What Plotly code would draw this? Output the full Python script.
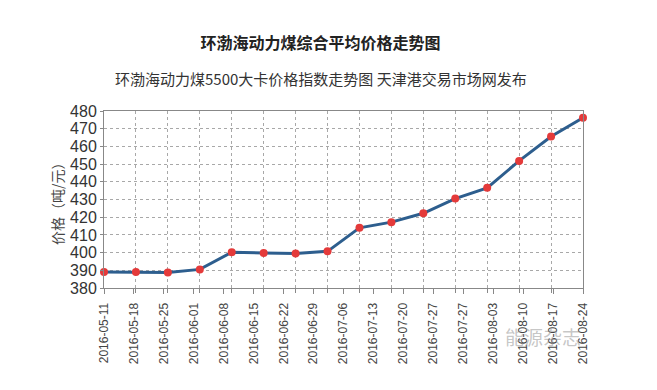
import numpy as np
import plotly.graph_objects as go

# ---- data ----
tick_labels = ["2016-05-11", "2016-05-18", "2016-05-25", "2016-06-01", "2016-06-08",
               "2016-06-15", "2016-06-22", "2016-06-29", "2016-07-06", "2016-07-13",
               "2016-07-20", "2016-07-27", "2016-07-27", "2016-08-03", "2016-08-10",
               "2016-08-17", "2016-08-24"]
prices = [389.0, 389.0, 388.8, 390.5, 400.2, 399.8, 399.5, 400.7, 414.0, 417.2,
          422.2, 430.5, 436.6, 451.8, 465.6, 476.2]
y_ticks = [380, 390, 400, 410, 420, 430, 440, 450, 460, 470, 480]

title_text = "<b>环渤海动力煤综合平均价格走势图</b>"
subtitle_text = "环渤海动力煤5500大卡价格指数走势图 天津港交易市场网发布"
ytitle_text = "价格（吨/元）"
watermark_text = "能源杂志"

FONT = "Liberation Sans, Arial, Noto Sans CJK SC, sans-serif"
CJK = "Noto Sans CJK SC, sans-serif"

n = len(prices)
x_data = list(range(n))
x_label_pos = list(np.linspace(0, n - 1, len(tick_labels)))

fig = go.Figure()
fig.add_trace(go.Scatter(
    x=x_data, y=prices, mode="lines+markers",
    line=dict(color="#2d5e8e", width=3),
    marker=dict(color="#e43a3a", size=8),
    cliponaxis=False, showlegend=False,
))

fig.update_layout(
    width=657, height=390,
    margin=dict(l=96, r=82, t=103, b=110),
    paper_bgcolor="white", plot_bgcolor="white",
    font=dict(family=FONT, color="#333"),
    title=dict(text=title_text, x=312.5 / 657, xref="container", xanchor="center",
               y=1 - 35 / 390, yref="container", yanchor="middle",
               font=dict(family=CJK, size=16, color="#222")),
    xaxis=dict(
        range=[0, n - 1],
        tickmode="array", tickvals=x_label_pos, ticktext=tick_labels,
        tickangle=-90, tickfont=dict(size=12, color="#444"),
        ticks="outside", ticklen=5, tickcolor="#888",
        ticklabelstandoff=4,
        showgrid=False, zeroline=False,
        showline=True, linecolor="#888", linewidth=1, mirror=True,
        minor=dict(tickmode="array", tickvals=x_data, showgrid=True,
                   gridcolor="#a8a8a8", griddash="dot", gridwidth=1,
                   ticks="outside", ticklen=4, tickcolor="#888"),
    ),
    yaxis=dict(
        range=[380, 480],
        tickmode="array", tickvals=y_ticks,
        tickfont=dict(size=16, color="#333"),
        ticks="outside", ticklen=3, tickcolor="#888",
        showgrid=True, gridcolor="#a8a8a8", griddash="dot", gridwidth=1,
        zeroline=False,
        showline=True, linecolor="#888", linewidth=1, mirror=True,
    ),
    annotations=[
        dict(text=subtitle_text, xref="paper", yref="paper",
             x=(312.5 - 96) / 479, y=1 + (103 - 70) / 177, xanchor="center", yanchor="middle",
             showarrow=False, font=dict(family=CJK, size=15, color="#333")),
        dict(text=ytitle_text, xref="paper", yref="paper",
             x=(49 - 96) / 479, y=(280 - 192) / 177, xanchor="center", yanchor="middle",
             textangle=-90, showarrow=False, font=dict(family=CJK, size=14, color="#444")),
        dict(text=watermark_text, xref="paper", yref="paper",
             x=(535 - 96) / 479, y=(280 - 328) / 177, xanchor="center", yanchor="middle",
             showarrow=False, font=dict(family=CJK, size=19, color="rgba(150,150,150,0.55)")),
    ],
)

fig.write_html("out.html")
